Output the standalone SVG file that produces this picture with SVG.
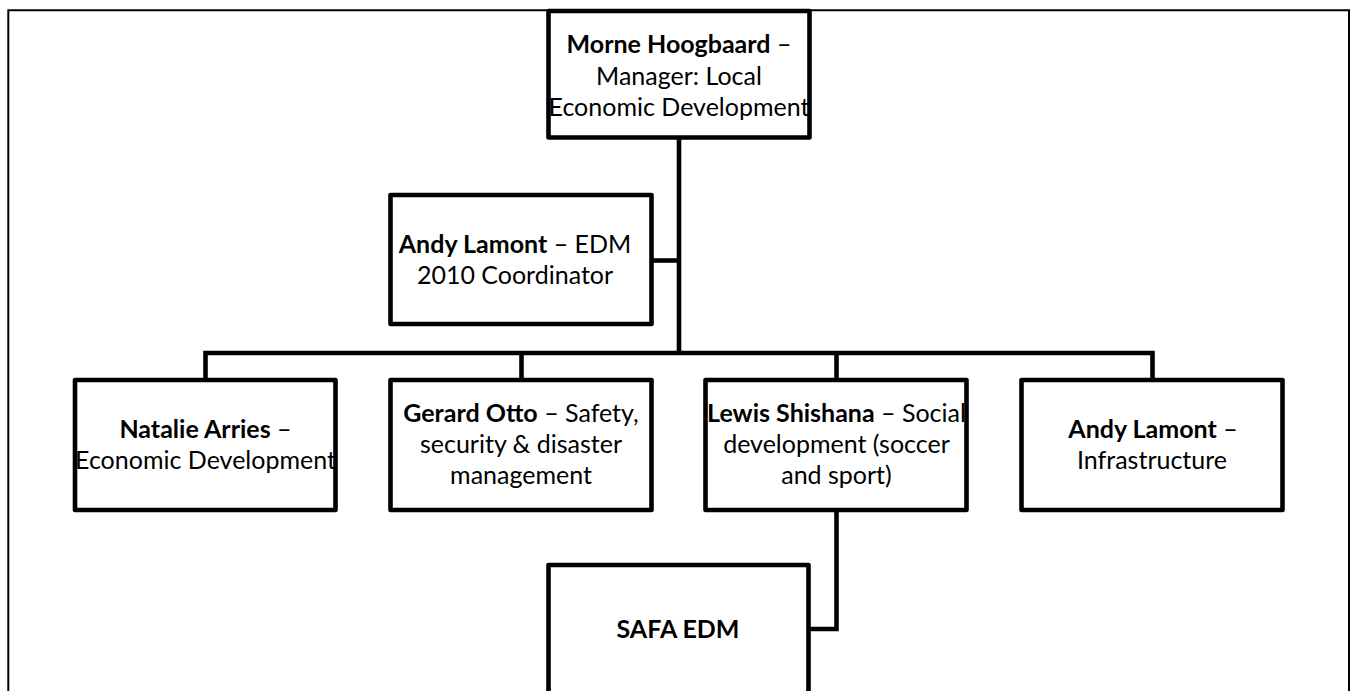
<svg xmlns="http://www.w3.org/2000/svg" width="1351" height="691" viewBox="0 0 1351 691">
<style>
.box{fill:#fff;stroke:#000;stroke-width:4.6;stroke-linejoin:round}
.ln{fill:none;stroke:#000;stroke-width:4.6;stroke-linejoin:miter;stroke-linecap:butt}
text{font-family:Lato,"Liberation Sans",sans-serif;font-size:25px;fill:#000;text-anchor:middle}
.b{font-weight:bold}
</style>
<rect width="1351" height="691" fill="#fff"/>
<path d="M8.3 691 V10.3 H1349 V691" fill="none" stroke="#000" stroke-width="2"/>
<g id="connectors">
<path class="ln" d="M679 137 V353"/>
<path class="ln" d="M651.5 260.5 H679"/>
<path class="ln" d="M205.5 380 V353 H1152.5 V380"/>
<path class="ln" d="M521.5 353 V380"/>
<path class="ln" d="M836.5 353 V380"/>
<path class="ln" d="M836.5 510 V629 H808.5"/>
</g>
<g id="n-morne">
<rect class="box" x="548.5" y="11" width="261" height="126.5"/>
<text x="679" y="53"><tspan class="b">Morne Hoogbaard</tspan> –</text>
<text x="679" y="84.5">Manager: Local</text>
<text x="679" y="116">Economic Development</text>
</g>
<g id="n-andy-edm">
<rect class="box" x="390.5" y="195" width="261" height="129"/>
<text x="515" y="253"><tspan class="b">Andy Lamont</tspan> – EDM</text>
<text x="515" y="283.5">2010 Coordinator</text>
</g>
<g id="n-natalie">
<rect class="box" x="75" y="380" width="260.5" height="130"/>
<text x="205.5" y="438"><tspan class="b">Natalie Arries</tspan> –</text>
<text x="205.5" y="468.5">Economic Development</text>
</g>
<g id="n-gerard">
<rect class="box" x="390.5" y="380" width="261" height="130"/>
<text x="521" y="422"><tspan class="b">Gerard Otto</tspan> – Safety,</text>
<text x="521" y="453">security &amp; disaster</text>
<text x="521" y="484">management</text>
</g>
<g id="n-lewis">
<rect class="box" x="705.5" y="380" width="261" height="130"/>
<text x="836.5" y="422"><tspan class="b">Lewis Shishana</tspan> – Social</text>
<text x="836.5" y="453">development (soccer</text>
<text x="836.5" y="484">and sport)</text>
</g>
<g id="n-andy-infra">
<rect class="box" x="1021.5" y="380" width="261" height="130"/>
<text x="1153" y="438"><tspan class="b">Andy Lamont</tspan> –</text>
<text x="1152" y="468.5">Infrastructure</text>
</g>
<g id="n-safa">
<rect class="box" x="548.5" y="565" width="260" height="140"/>
<text x="678" y="638" class="b">SAFA EDM</text>
</g>
</svg>
